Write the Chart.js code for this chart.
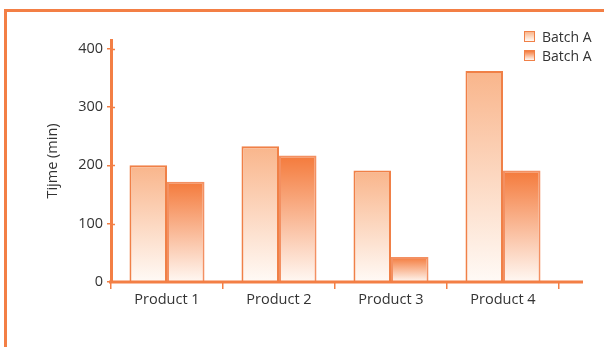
<!DOCTYPE html>
<html>
<head>
<meta charset="utf-8">
<script src="https://cdn.jsdelivr.net/npm/chart.js@4/dist/chart.umd.min.js"></script>
<style>
  html, body { margin: 0; padding: 0; background: #fff; }
  #wrap { position: relative; width: 604px; height: 347px; overflow: hidden; }
  #frame { position: absolute; left: 4px; top: 9px; width: 610px; height: 350px;
           border-top: 3px solid #f37f45; border-left: 3px solid #f37f45; box-sizing: border-box; }
  canvas { position: absolute; left: 0; top: 0; }
  #legend { position: absolute; left: 524px; top: 27px; font-family: 'Open Sans', sans-serif;
            font-size: 14px; color: #333; }
  .item { display: flex; align-items: center; height: 19px; }
  .box { width: 9px; height: 9px; border: 1.5px solid #f08047; margin-right: 7px; }
</style>
</head>
<body>
<div id="wrap">
  <div id="frame"></div>
  <canvas id="c" width="604" height="347"></canvas>
  <div id="legend"></div>
</div>
<script>
const categories = ['Product 1', 'Product 2', 'Product 3', 'Product 4'];
const seriesNames = ['Batch A', 'Batch A'];
const seriesA = [200, 233, 191, 362];
const seriesB = [172, 217, 43, 191];
const yTicks = [0, 100, 200, 300, 400];
const yTitle = 'Tijme (min)';

const ORANGE = '#f37f45';
const FONT = { family: 'Open Sans', size: 14.5 };
const topColors = ['#f9b58b', '#f47a3b'];
const bottomColors = ['#fffaf6', '#fff8f3'];

function barGradient(ctx, idx) {
  const chart = ctx.chart;
  const ys = chart.scales && chart.scales.y;
  if (!ys || !chart.chartArea || ctx.raw === undefined) return topColors[idx];
  const top = ys.getPixelForValue(ctx.raw);
  const bot = ys.getPixelForValue(0);
  const g = chart.ctx.createLinearGradient(0, top, 0, bot);
  g.addColorStop(0, topColors[idx]);
  g.addColorStop(1, bottomColors[idx]);
  return g;
}

// HTML legend
const leg = document.getElementById('legend');
seriesNames.forEach((n, i) => {
  const d = document.createElement('div'); d.className = 'item';
  const b = document.createElement('div'); b.className = 'box';
  b.style.background = 'linear-gradient(' + topColors[i] + ',' + bottomColors[i] + ')';
  const t = document.createElement('span'); t.textContent = n;
  d.appendChild(b); d.appendChild(t); leg.appendChild(d);
});

const axisExtras = {
  id: 'axisExtras',
  afterDraw(chart) {
    const { ctx, chartArea, scales } = chart;
    ctx.save();
    ctx.strokeStyle = ORANGE;
    ctx.lineWidth = 3;
    ctx.beginPath();
    ctx.moveTo(chartArea.left - 2, chartArea.bottom);
    ctx.lineTo(chartArea.right + 24, chartArea.bottom);
    ctx.stroke();
    ctx.lineWidth = 1.5;
    scales.y.ticks.forEach(t => {
      if (t.value === 0) return;
      const y = Math.round(scales.y.getPixelForValue(t.value)) + 0.5;
      ctx.beginPath();
      ctx.moveTo(chartArea.left, y);
      ctx.lineTo(chartArea.left + 4, y);
      ctx.stroke();
    });
    ctx.restore();
  }
};

new Chart(document.getElementById('c'), {
  type: 'bar',
  data: {
    labels: categories,
    datasets: [
      { label: seriesNames[0], data: seriesA,
        backgroundColor: c => barGradient(c, 0), borderColor: '#f08047', borderWidth: 2 },
      { label: seriesNames[1], data: seriesB,
        backgroundColor: c => barGradient(c, 1), borderColor: '#f39062', borderWidth: 2 }
    ]
  },
  plugins: [axisExtras],
  options: {
    responsive: false,
    animation: false,
    layout: { padding: { left: 44, top: 40, right: 45, bottom: 0 } },
    plugins: { legend: { display: false }, tooltip: { enabled: false } },
    datasets: { bar: { categoryPercentage: 0.67, barPercentage: 1.0 } },
    scales: {
      x: {
        offset: true,
        grid: { offset: true, drawOnChartArea: false, drawTicks: true, tickLength: 7, color: ORANGE, lineWidth: 1.5 },
        border: { display: false },
        ticks: { color: '#333', font: FONT, padding: 2, maxRotation: 0 },
        afterFit: s => { s.height = 65; }
      },
      y: {
        min: 0, max: 415,
        afterBuildTicks: s => { s.ticks = yTicks.map(v => ({ value: v })); },
        grid: { drawOnChartArea: false, drawTicks: true, tickLength: 4, color: ORANGE, lineWidth: 1.5 },
        border: { display: true, color: ORANGE, width: 3 },
        ticks: { color: '#333', font: FONT, padding: 4 },
        title: { display: true, text: yTitle, color: '#333', font: FONT, padding: 0 },
        afterFit: s => { s.width = 67; }
      }
    }
  }
});
</script>
</body>
</html>
